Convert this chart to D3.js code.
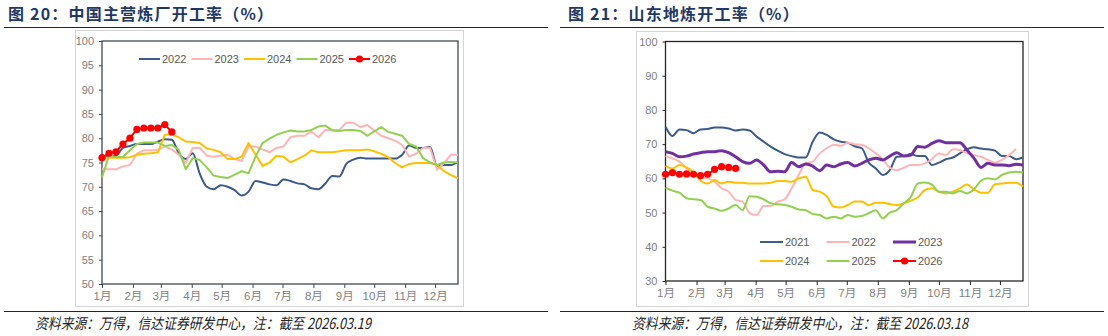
<!DOCTYPE html>
<html>
<head>
<meta charset="utf-8">
<script src="https://cdn.jsdelivr.net/npm/d3@7/dist/d3.min.js"></script>
<style>
  body { margin: 0; background: #fff; }
  svg { display: block; }
</style>
</head>
<body>
<svg id="chart" width="1108" height="336"></svg>
<script>
// month ticks (day-of-year of the 1st, converted to week index)
var monthLabels = ["1月", "2月", "3月", "4月", "5月", "6月", "7月", "8月", "9月", "10月", "11月", "12月"]
var monthStartDay = [0, 31, 59, 90, 120, 151, 181, 212, 243, 273, 304, 334]

// 图20 中国主营炼厂开工率, weekly
var main2022 = [76.0, 76.2, 76.4, 78.0, 78.4, 78.8, 78.8, 78.8, 79.3, 79.8, 79.7, 76.9, 75.7, 76.9, 72.7, 70.0,
  69.5, 70.3, 70.0, 69.3, 68.2, 69.0, 71.2, 70.9, 70.5, 70.3, 71.5, 71.2, 70.7, 70.5, 69.7, 69.5,
  70.7, 72.2, 72.1, 74.7, 75.6, 76.0, 75.8, 75.8, 75.8, 75.8, 75.8, 76.6, 78.5, 78.0, 78.0, 78.2,
  74.3, 74.5, 74.5, 75.1]
var main2023 = [73.6, 73.6, 73.6, 74.2, 74.5, 76.8, 77.5, 77.5, 77.6, 78.3, 77.7, 76.6, 74.9, 78.0, 78.0, 76.4,
  76.2, 76.4, 76.6, 75.7, 75.3, 78.3, 78.3, 77.7, 77.1, 78.0, 78.3, 80.2, 80.5, 80.5, 81.4, 80.2,
  81.7, 81.7, 81.7, 83.2, 83.2, 82.3, 82.7, 81.6, 80.5, 80.0, 79.5, 78.6, 76.2, 76.8, 78.0, 78.0,
  73.5, 74.9, 76.6, 76.6]
var main2024 = [76.0, 76.0, 76.0, 76.0, 76.1, 76.6, 76.8, 76.9, 77.1, 80.7, 80.8, 80.2, 79.3, 79.2, 79.0, 77.9,
  77.6, 77.1, 75.7, 75.7, 76.2, 79.0, 76.6, 74.3, 75.0, 76.4, 76.2, 75.0, 75.7, 76.4, 77.5, 77.1,
  77.1, 77.1, 77.3, 77.5, 77.5, 77.5, 77.7, 77.3, 76.8, 76.1, 74.9, 74.0, 74.7, 74.9, 74.9, 74.9,
  74.5, 73.2, 72.4, 71.8]
var main2025 = [71.9, 76.4, 76.1, 76.2, 77.5, 78.8, 79.1, 79.1, 79.1, 78.4, 78.6, 77.6, 73.6, 75.9, 75.5, 74.0,
  72.3, 72.0, 71.8, 72.5, 73.2, 72.8, 76.2, 79.0, 79.9, 80.7, 81.2, 81.6, 81.4, 81.4, 81.7, 82.4,
  82.6, 81.6, 81.5, 81.7, 81.7, 81.5, 80.5, 81.4, 82.3, 81.3, 80.9, 80.5, 78.8, 78.3, 75.9, 75.0,
  74.5, 75.0, 75.1, 75.0]
var main2026 = [76.0, 76.9, 77.2, 78.8, 80.0, 81.8, 82.1, 82.1, 82.1, 82.8, 81.3]

// 图21 山东地炼开工率, weekly
var sd2021 = [75.1, 72.4, 74.3, 74.1, 73.2, 74.3, 74.4, 74.9, 74.9, 74.6, 74.0, 74.3, 74.0, 72.2, 70.7, 69.3,
  68.1, 67.1, 66.5, 66.1, 66.1, 70.7, 73.4, 72.7, 71.4, 70.7, 70.4, 69.4, 68.8, 64.6, 62.9, 61.0,
  62.4, 66.3, 66.5, 67.1, 66.5, 66.5, 63.9, 64.6, 65.6, 66.1, 67.3, 68.5, 69.1, 68.7, 68.5, 68.1,
  66.5, 66.5, 65.6, 66.1]
var sd2022 = [66.5, 65.8, 64.9, 62.9, 61.5, 60.3, 60.0, 59.0, 57.1, 56.1, 53.7, 53.2, 49.8, 49.3, 51.9, 51.9,
  53.2, 53.9, 57.1, 61.0, 64.4, 64.9, 67.3, 68.8, 69.8, 69.5, 70.4, 70.0, 69.8, 68.8, 67.3, 65.6,
  63.1, 62.4, 63.1, 63.9, 63.9, 64.4, 65.6, 67.3, 66.8, 68.5, 68.3, 67.3, 66.8, 66.3, 65.4, 64.6,
  65.4, 66.8, 68.6]
var sd2023 = [67.8, 67.3, 66.3, 66.5, 67.1, 67.5, 67.8, 67.8, 68.1, 67.5, 66.3, 64.9, 64.4, 65.4, 63.9, 61.9,
  62.1, 61.9, 64.6, 63.4, 64.2, 63.6, 62.2, 63.9, 63.4, 64.2, 64.6, 63.6, 64.4, 65.4, 65.9, 65.4,
  66.5, 67.5, 66.5, 66.8, 69.3, 69.1, 70.2, 71.0, 70.4, 70.4, 70.4, 68.3, 65.9, 63.2, 64.4, 63.9,
  63.9, 63.7, 64.1, 63.9]
var sd2024 = [63.6, 62.9, 63.9, 63.2, 61.9, 59.3, 58.5, 59.5, 58.5, 59.0, 58.7, 58.7, 58.5, 58.5, 58.5, 58.7,
  59.2, 59.2, 59.0, 60.0, 60.5, 56.6, 56.1, 54.8, 51.7, 51.5, 52.2, 53.2, 53.2, 52.2, 52.9, 52.9,
  52.5, 52.2, 52.7, 53.5, 54.4, 56.6, 57.1, 56.1, 55.6, 56.1, 57.1, 58.2, 56.8, 55.8, 55.8, 58.3,
  58.5, 58.7, 58.7, 57.6]
var sd2025 = [57.3, 56.4, 55.8, 54.2, 53.9, 53.7, 51.7, 51.2, 50.5, 51.2, 52.2, 50.7, 54.8, 54.6, 53.9, 52.7,
  52.4, 52.2, 51.7, 50.9, 50.7, 49.6, 49.3, 48.3, 48.8, 48.3, 49.3, 48.8, 49.0, 49.8, 50.7, 48.3,
  50.0, 50.7, 52.7, 54.6, 58.5, 58.8, 58.2, 56.1, 56.1, 55.6, 56.3, 55.6, 56.8, 59.3, 60.0, 59.7,
  61.0, 61.7, 61.9, 61.7]
var sd2026 = [61.2, 61.7, 61.2, 61.3, 61.2, 60.8, 61.2, 62.6, 63.4, 63.2, 62.9]

var svg = d3.select("#chart")
var titleColor = "#1f3864"
var tickColor = "#7f7f7f"
var tickFont = "'Liberation Sans', Arial, 'Noto Sans CJK SC', sans-serif"

function drawPanel(p) {
    var g = svg.append("g")

    // outer light frame
    g.append("rect")
        .attr("x", p.frame[0] + 0.5).attr("y", p.frame[1] + 0.5)
        .attr("width", p.frame[2]).attr("height", p.frame[3])
        .attr("fill", "none").attr("stroke", "#d4d4d4").attr("stroke-width", 1)

    var x = d3.scaleLinear().domain([0, 51]).range([p.x0, p.x1])
    var y = d3.scaleLinear().domain(p.yDomain).range([p.y1, p.y0])

    // y axis
    var yAxis = g.append("g")
        .attr("transform", "translate(" + p.x0 + ",0)")
        .call(d3.axisLeft(y).tickValues(d3.range(p.yDomain[0], p.yDomain[1] + 1, p.yStep))
            .tickSize(3).tickPadding(5))
    yAxis.select(".domain").remove()
    yAxis.selectAll("line").attr("stroke", p.axisColor)
    yAxis.selectAll("text").attr("fill", tickColor).style("font-size", "11px").style("font-family", tickFont)

    // x axis with month ticks
    var xAxis = g.append("g")
        .attr("transform", "translate(0," + p.y1 + ")")
        .call(d3.axisBottom(x).tickValues(monthStartDay.map(function(d) { return d / 7 }))
            .tickFormat(function(d, i) { return monthLabels[i] })
            .tickSize(4).tickPadding(4))
    xAxis.select(".domain").remove()
    xAxis.selectAll("line").attr("stroke", p.axisColor)
    xAxis.selectAll("text").attr("fill", tickColor).style("font-size", "11.5px").style("font-family", tickFont)

    // plot box
    g.append("rect")
        .attr("x", p.x0).attr("y", p.y0)
        .attr("width", p.x1 - p.x0).attr("height", p.y1 - p.y0)
        .attr("fill", "none").attr("stroke", p.axisColor).attr("stroke-width", 1.3)

    var line = d3.line()
        .x(function(d, i) { return x(i) })
        .y(function(d) { return y(d) })

    p.series.forEach(function(s) {
        line.curve(s.smooth ? d3.curveMonotoneX : d3.curveLinear)
        g.append("path")
            .datum(s.values)
            .attr("d", line)
            .attr("fill", "none")
            .attr("stroke", s.color)
            .attr("stroke-width", s.width)
            .attr("stroke-linejoin", "round")
        if (s.marker) {
            g.selectAll(null).data(s.values).enter().append("circle")
                .attr("cx", function(d, i) { return x(i) })
                .attr("cy", function(d) { return y(d) })
                .attr("r", 3.6)
                .attr("fill", s.color)
        }
    })

    // legend
    p.series.forEach(function(s, i) {
        var pos = p.legendPos(i)
        var lg = g.append("g").attr("transform", "translate(" + pos[0] + "," + pos[1] + ")")
        lg.append("line")
            .attr("x1", 0).attr("x2", p.legendLine)
            .attr("y1", 0).attr("y2", 0)
            .attr("stroke", s.color).attr("stroke-width", s.width)
        if (s.marker) {
            lg.append("circle").attr("cx", p.legendLine / 2).attr("cy", 0).attr("r", 3.6).attr("fill", s.color)
        }
        lg.append("text")
            .attr("x", p.legendLine + 2).attr("y", 4)
            .attr("fill", "#595959")
            .style("font-size", "11px").style("font-family", tickFont)
            .text(s.name)
    })

    // title, rules and source
    g.append("text")
        .attr("x", p.titleX).attr("y", 20)
        .attr("fill", titleColor)
        .style("font-size", "16px").style("font-weight", "bold")
        .style("letter-spacing", "1.2px")
        .style("font-family", "'Noto Sans CJK SC', sans-serif")
        .text(p.title)
    g.append("line")
        .attr("x1", p.ruleX[0]).attr("x2", p.ruleX[1]).attr("y1", 27.5).attr("y2", 27.5)
        .attr("stroke", "#262626").attr("stroke-width", 1.2)
    g.append("line")
        .attr("x1", p.ruleX[0]).attr("x2", p.ruleX[1]).attr("y1", 311.5).attr("y2", 311.5)
        .attr("stroke", "#262626").attr("stroke-width", 1)
    g.append("text")
        .attr("x", p.sourceX).attr("y", 329)
        .attr("fill", "#262626")
        .attr("textLength", 336).attr("lengthAdjust", "spacingAndGlyphs")
        .style("font-size", "15px").style("font-style", "italic")
        .style("font-family", "'Noto Sans CJK SC', sans-serif")
        .text(p.source)
}

drawPanel({
    title: "图 20：中国主营炼厂开工率（%）",
    titleX: 8,
    ruleX: [4, 548],
    source: "资料来源：万得，信达证券研发中心，注：截至 2026.03.19",
    sourceX: 35,
    frame: [75, 30, 388, 276],
    x0: 102, x1: 458, y0: 41, y1: 284,
    yDomain: [50, 100], yStep: 5,
    axisColor: "#3f4a5a",
    legendLine: 21,
    legendPos: function(i) { return [139 + i * 52.5, 59] },
    series: [
        { name: "2022", values: main2022, color: "#3c5a8a", width: 2, smooth: true },
        { name: "2023", values: main2023, color: "#ffb5b5", width: 2 },
        { name: "2024", values: main2024, color: "#ffc000", width: 2 },
        { name: "2025", values: main2025, color: "#92d050", width: 2 },
        { name: "2026", values: main2026, color: "#ff0000", width: 2, marker: true }
    ]
})

drawPanel({
    title: "图 21：山东地炼开工率（%）",
    titleX: 568,
    ruleX: [560, 1104],
    source: "资料来源：万得，信达证券研发中心，注：截至 2026.03.18",
    sourceX: 632,
    frame: [636, 31, 392, 275],
    x0: 665.5, x1: 1023, y0: 41.5, y1: 281,
    yDomain: [30, 100], yStep: 10,
    axisColor: "#262626",
    legendLine: 23,
    legendPos: function(i) { return [760 + (i % 3) * 66.5, 242 + Math.floor(i / 3) * 19] },
    series: [
        { name: "2021", values: sd2021, color: "#3c5a8a", width: 2, smooth: true },
        { name: "2022", values: sd2022, color: "#ffb5b5", width: 2, smooth: true },
        { name: "2023", values: sd2023, color: "#7030a0", width: 3, smooth: true },
        { name: "2024", values: sd2024, color: "#ffc000", width: 2, smooth: true },
        { name: "2025", values: sd2025, color: "#92d050", width: 2, smooth: true },
        { name: "2026", values: sd2026, color: "#ff0000", width: 2, marker: true }
    ]
})
</script>
</body>
</html>
